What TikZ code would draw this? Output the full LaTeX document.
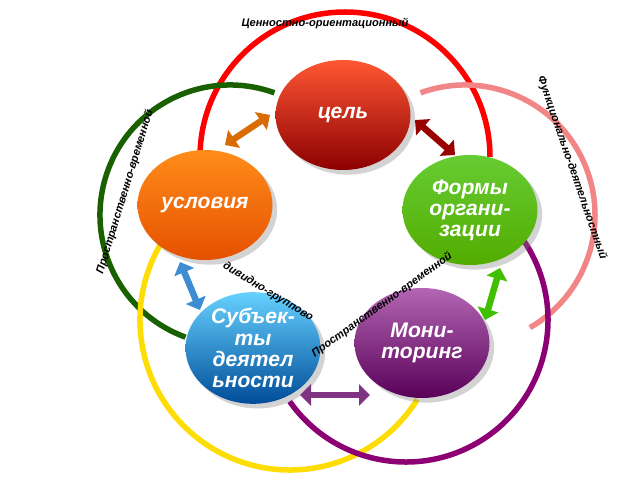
\documentclass[tikz,border=0pt]{standalone}
\usepackage{fontspec}
\setmainfont{Liberation Sans}
\usepackage{tikz}
\usetikzlibrary {arrows.meta,
                 calc,
                 positioning,
                 shadows,
                 shapes.geometric}
\tikzset{
        ball/.style={ellipse, minimum width=27mm, minimum height=22mm,
                     align=center, text=white, inner sep=0pt,
                     font=\fontsize{12}{12}\selectfont\bfseries\itshape,
                     drop shadow={opacity=0.35}},
        ring/.style={line width=1.1mm},
        link/.style={{Triangle[length=2.2mm,width=4.2mm]}-{Triangle[length=2.2mm,width=4.2mm]},
                     line width=1.3mm},
        lbl/.style={font=\fontsize{6.3}{6.3}\selectfont\bfseries\itshape},
 }
\begin{document}
\begin{tikzpicture}[x=0.2mm, y=-0.2mm]
    \useasboundingbox (0,0) rectangle (640,480);
    % rings
    \draw[ring, red] (200,157) arc[start angle=180, end angle=360, radius=145];
    \draw[ring, green!35!black!80!olive] ($(230,215)+(-70:130)$) arc[start angle=-70, end angle=-250, radius=130];
    \draw[ring, red!30!pink!90!gray] ($(465,215)+(-110:130)$) arc[start angle=-110, end angle=60, radius=130];
    \draw[ring, yellow!80!orange] ($(290,320)+(-149:150)$) arc[start angle=-149, end angle=-328, radius=150];
    \draw[ring, violet!80!purple] ($(406,320)+(-35:142)$) arc[start angle=-35, end angle=145, radius=142];

    % nodes
    \node[ball, top color=red!65!orange!80, bottom color=red!55!black] (goal) at (343,115) {цель};
    \node[ball, top color=orange!90, bottom color=orange!70!red!90!black] (cond) at (205,205) {условия};
    \node[ball, top color=green!50!olive!80!white, bottom color=green!35!olive] (form) at (470,210) {Формы\\органи-\\зации};
    \node[ball, top color=cyan!70!blue!60, bottom color=cyan!50!blue!60!black] (subj) at (253,348) {Субъек-\\ты\\деятел\\ьности};
    \node[ball, top color=violet!60, bottom color=violet!70!black] (mon) at (422,343) {Мони-\\торинг};

    % links
    \draw[link, orange!85!black] ($(cond)+(20,-60)$) -- ($(goal)+(-73,0)$);
    \draw[link, red!60!black] ($(goal)+(72,5)$) -- ($(form)+(-15,-55)$);
    \draw[link, green!50!olive] ($(form)+(30,58)$) -- ($(mon)+(63,-23)$);
    \draw[link, violet!60!gray] ($(subj)+(47,47)$) -- ($(mon)+(-52,52)$);
    \draw[link, cyan!60!blue!80] ($(cond)+(-25,57)$) -- ($(subj)+(-53,-38)$);

    % labels
    \node[lbl] (top) at (325,24) {Ценностно-ориентационный};
    \node[lbl, rotate=73] (left) at (125,192) {Пространственно-временной};
    \node[lbl, rotate=-71] (right) at (572,168) {Функционально-деятельностный};
    \node[lbl, rotate=-31] (mid1) at (268,292) {дивидно-группово};
    \node[lbl, rotate=36] (mid2) at (382,305) {Пространственно-временной};
\end{tikzpicture}
\end{document}
